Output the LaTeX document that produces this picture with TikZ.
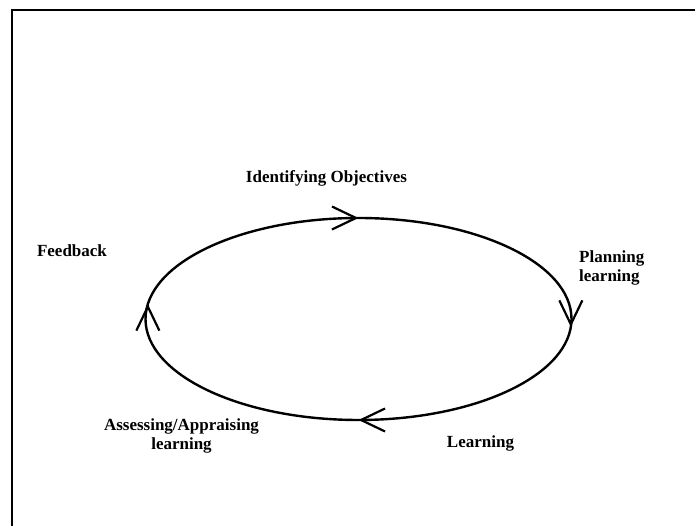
\documentclass[tikz,border=0pt]{standalone}
\usepackage{fontspec}
\setmainfont{Liberation Serif}
\usetikzlibrary{arrows.meta,positioning}

\tikzset{
  ring/.style={line width=2.4pt},
  tip/.style={line width=2.4pt, -{Straight Barb[length=24pt,width=23pt,line width=2.2pt]}},
  lbl/.style={inner sep=0pt, font=\fontsize{17pt}{19.5pt}\selectfont\bfseries}
}

\begin{document}
\begin{tikzpicture}[x=1pt,y=1pt]

\useasboundingbox (0,0) rectangle (695,526);

% --- Cornice ---
\draw[line width=1.6pt] (695,516) -- (12,516) -- (12,0);

% --- Ciclo ---
\coordinate (c) at (358.5,207);
\path (c) ++(90:213 and 101) coordinate (obj);
\path (c) ++(-4.5:213 and 101) coordinate (plan);
\path (c) ++(-90:213 and 101) coordinate (learn);
\path (c) ++(171.5:213 and 101) coordinate (fback);

\draw[ring] (c) ellipse [x radius=213, y radius=101];

\draw[tip] ([xshift=-1pt]obj) -- (obj);
\draw[tip] ([yshift=1pt]plan) -- (plan);
\draw[tip] ([xshift=1pt]learn) -- (learn);
\draw[tip] ([yshift=-1pt]fback) -- (fback);

% --- Etichette ---
\node[lbl, anchor=north] (objtxt) at (326.5,355.9) {Identifying Objectives};
\node[lbl, anchor=north] (fbtxt) at (72,281.6) {Feedback};
\node[lbl, anchor=north west, align=left] (plantxt) at (579,275.6) {Planning\\learning};
\node[lbl, anchor=north] (learntxt) at (480.5,90.6) {Learning};
\node[lbl, anchor=north, align=center] (asstxt) at (181.5,107.6) {Assessing/Appraising\\learning};

\end{tikzpicture}
\end{document}
